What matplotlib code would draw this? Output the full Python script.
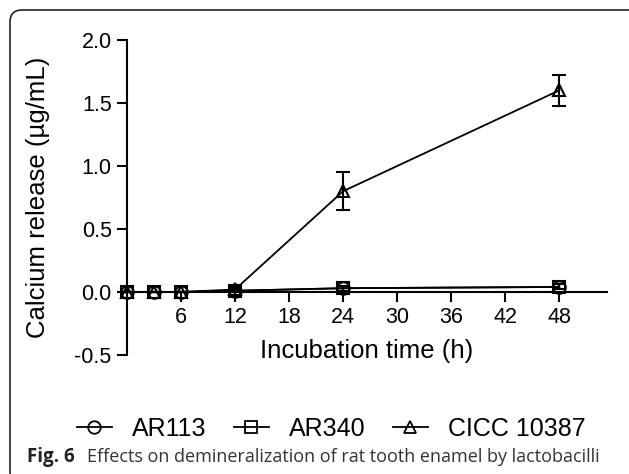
import matplotlib.pyplot as plt
import matplotlib.transforms as mtransforms
from matplotlib.patches import FancyBboxPatch
from matplotlib.lines import Line2D

# Données
temps = [0, 3, 6, 12, 24, 48]
ar113 = [0.0, 0.0, 0.0, 0.01, 0.03, 0.04]
ar340 = [0.0, 0.0, 0.0, 0.01, 0.03, 0.04]
cicc = [0.0, 0.0, 0.0, 0.02, 0.80, 1.60]
cicc_err = [0.0, 0.0, 0.0, 0.02, 0.15, 0.12]
ar_err = [0.0, 0.0, 0.0, 0.01, 0.02, 0.02]

series = [
    ("AR113", ar113, ar_err, "o"),
    ("AR340", ar340, ar_err, "s"),
    ("CICC 10387", cicc, cicc_err, "^"),
]

plt.rcParams['font.family'] = ['Liberation Sans', 'DejaVu Sans']

fig = plt.figure(figsize=(6.29, 4.74), dpi=100)

# cadre arrondi (en pixels)
cadre = FancyBboxPatch((10, -10), 640, 474, boxstyle="round,pad=0,rounding_size=12",
                       transform=mtransforms.IdentityTransform(), fill=False,
                       edgecolor='#222222', linewidth=1.2)
fig.patches.append(cadre)

ax = fig.add_axes([127 / 629, 1 - 355 / 474, 480 / 629, 315 / 474])

for nom, y, err, m in series:
    ax.errorbar(temps, y, yerr=err, marker=m, markersize=9, color='black',
                markerfacecolor='none', markeredgewidth=1.5, linewidth=1.3,
                capsize=5, capthick=1.5, elinewidth=1.5, clip_on=False,
                label=nom, zorder=3)

ax.set_xlim(0, 53.3)
ax.set_ylim(-0.5, 2.0)
ax.spines['left'].set_position(('data', 0))
ax.spines['bottom'].set_position(('data', 0))
ax.spines['top'].set_visible(False)
ax.spines['right'].set_visible(False)
for s in ['left', 'bottom']:
    ax.spines[s].set_linewidth(1.5)
ax.set_xticks([6, 12, 18, 24, 30, 36, 42, 48])
ax.set_yticks([-0.5, 0.0, 0.5, 1.0, 1.5, 2.0])
ax.set_yticklabels(["-0.5", "0.0", "0.5", "1.0", "1.5", "2.0"])
ax.tick_params(axis='both', direction='out', length=7, width=1.5, labelsize=15.5, pad=4)

ax.set_ylabel("Calcium release (µg/mL)", fontsize=18.5)
ax.yaxis.set_label_coords(-0.16, 0.5)
fig.text(367 / 629, 1 - 351 / 474, "Incubation time (h)", fontsize=18.5,
         ha='center', va='center')

handles = [Line2D([], [], color='black', marker=m, markersize=9,
                  markerfacecolor='none', markeredgewidth=1.3, linewidth=1.3)
           for _, _, _, m in series]
fig.legend(handles, [s[0] for s in series], loc='center', ncol=3,
           bbox_to_anchor=(331 / 629, 1 - 429 / 474), frameon=False,
           fontsize=18, handlelength=1.4, columnspacing=1.1, handletextpad=0.8)

fig.text(27 / 629, 1 - 457 / 474, "Fig. 6", fontsize=13.5, fontweight='bold',
         family='Open Sans', color='#222222', va='center')
fig.text(87 / 629, 1 - 457 / 474,
         "Effects on demineralization of rat tooth enamel by lactobacilli",
         fontsize=13, family='Open Sans', color='#333333', va='center')

fig.savefig("out.png", dpi=100)
